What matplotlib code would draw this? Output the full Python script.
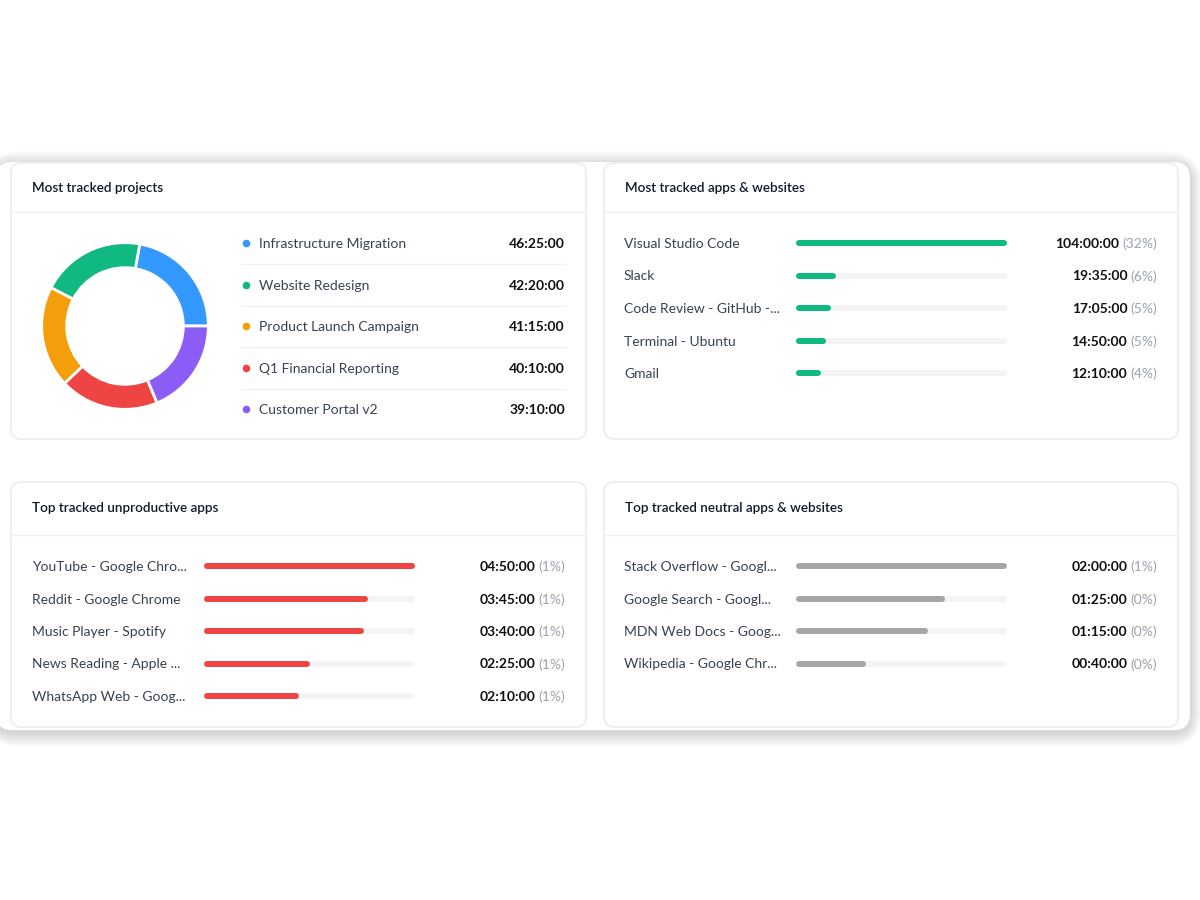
import matplotlib
matplotlib.use("Agg")
import matplotlib.pyplot as plt
from matplotlib.patches import FancyBboxPatch

plt.rcParams["font.family"] = ["Lato", "DejaVu Sans"]

W, H = 1200, 900

# data
project_names = [
    "Infrastructure Migration",
    "Website Redesign",
    "Product Launch Campaign",
    "Q1 Financial Reporting",
    "Customer Portal v2",
]
project_times = ["46:25:00", "42:20:00", "41:15:00", "40:10:00", "39:10:00"]
project_colors = ["#3399ff", "#10b981", "#f59e0b", "#ef4444", "#8b5cf6"]

app_names = [
    "Visual Studio Code",
    "Slack",
    "Code Review - GitHub -...",
    "Terminal - Ubuntu",
    "Gmail",
]
app_times = ["104:00:00", "19:35:00", "17:05:00", "14:50:00", "12:10:00"]
app_shares = ["32%", "6%", "5%", "5%", "4%"]

unprod_names = [
    "YouTube - Google Chro...",
    "Reddit - Google Chrome",
    "Music Player - Spotify",
    "News Reading - Apple ...",
    "WhatsApp Web - Goog...",
]
unprod_times = ["04:50:00", "03:45:00", "03:40:00", "02:25:00", "02:10:00"]
unprod_shares = ["1%", "1%", "1%", "1%", "1%"]

neutral_names = [
    "Stack Overflow - Googl...",
    "Google Search - Googl...",
    "MDN Web Docs - Goog...",
    "Wikipedia - Google Chr...",
]
neutral_times = ["02:00:00", "01:25:00", "01:15:00", "00:40:00"]
neutral_shares = ["1%", "0%", "0%", "0%"]


def to_hours(s):
    h, m, sec = (int(p) for p in s.split(":"))
    return h + m / 60 + sec / 3600


TITLE_C = "#111827"
LABEL_C = "#374151"
MUTED_C = "#9ca3af"
TRACK_C = "#f3f4f6"
LINE_C = "#f0f1f3"
FS = 10

fig = plt.figure(figsize=(12, 9), dpi=100)
bg = fig.add_axes([0, 0, 1, 1])
bg.set_xlim(0, W)
bg.set_ylim(H, 0)
bg.axis("off")


def px_axes(x0, y0, x1, y1):
    return fig.add_axes([x0 / W, 1 - y1 / H, (x1 - x0) / W, (y1 - y0) / H])


# soft shadow behind the whole panel
cx0, cy0, cx1, cy1 = -4, 162, 1190, 730
for i in range(20):
    g = 20 - i
    bg.add_patch(FancyBboxPatch(
        (cx0 - g * 0.6, cy0 - g * 0.7 + 3), (cx1 - cx0) + g * 1.2, (cy1 - cy0) + g * 1.4,
        boxstyle="round,pad=0,rounding_size=%d" % (16 + g),
        facecolor="black", edgecolor="none", alpha=0.007, zorder=1))
bg.add_patch(FancyBboxPatch(
    (cx0, cy0), cx1 - cx0, cy1 - cy0, boxstyle="round,pad=0,rounding_size=16",
    facecolor="white", edgecolor="none", zorder=2))


def card(x0, y0, x1, y1, title, sep_y):
    bg.add_patch(FancyBboxPatch(
        (x0, y0), x1 - x0, y1 - y0, boxstyle="round,pad=0,rounding_size=10",
        facecolor="white", edgecolor="#e8e9ec", linewidth=1.0, zorder=3))
    bg.plot([x0 + 1, x1 - 1], [sep_y, sep_y], color=LINE_C, lw=1, zorder=4)
    bg.text(x0 + 21, (y0 + sep_y) / 2, title, fontsize=FS - 0.3, fontweight="semibold",
            color=TITLE_C, va="center", ha="left", zorder=5)


card(11, 163, 586, 439, "Most tracked projects", 212)
card(604, 163, 1178, 439, "Most tracked apps & websites", 212)
card(11, 482, 586, 727, "Top tracked unproductive apps", 535)
card(604, 482, 1178, 727, "Top tracked neutral apps & websites", 535)

# donut
project_hours = [to_hours(t) for t in project_times]
dax = px_axes(40, 241, 210, 411)
dax.pie(project_hours, colors=project_colors, startangle=0, counterclock=True,
        wedgeprops=dict(width=0.3, edgecolor="white", linewidth=2))
dax.set_xlim(-1.02, 1.02)
dax.set_ylim(-1.02, 1.02)
dax.set_aspect("equal")
dax.axis("off")

row_y = [243, 285, 326, 368, 409]
for i, (name, t, c) in enumerate(zip(project_names, project_times, project_colors)):
    y = row_y[i] + 1
    bg.scatter([246], [y - 1], s=30, color=c, zorder=6, linewidths=0)
    bg.text(259, y, name, fontsize=FS, color=LABEL_C, va="center", ha="left", zorder=6)
    bg.text(565, y, t, fontsize=FS, fontweight="bold", color="#111111",
            va="center", ha="right", zorder=6)
    if i < len(project_names) - 1:
        sy = (row_y[i] + row_y[i + 1]) / 2
        bg.plot([241, 566], [sy, sy], color=LINE_C, lw=1, zorder=5)

renderer = fig.canvas.get_renderer()


def bar_list(names, times, shares, color, lx, bx0, bx1, vx, y0, step):
    hours = [to_hours(t) for t in times]
    n = len(names)
    top = y0 - step / 2
    ax = px_axes(bx0, top, bx1, top + n * step)
    mx = max(hours)
    ax.set_xlim(0, mx)
    ax.set_ylim(n - 0.5, -0.5)
    ax.axis("off")
    cap = mx * 3.0 / (bx1 - bx0)  # half of the bar thickness, in data units
    lw = 6 * 72 / 100
    rows = list(range(n))
    ax.hlines(rows, cap, mx - cap, colors=TRACK_C, linewidth=lw, capstyle="round")
    ax.hlines(rows, cap, [h - cap for h in hours], colors=color, linewidth=lw,
              capstyle="round")
    for i, (name, t, s) in enumerate(zip(names, times, shares)):
        y = y0 + i * step + 1
        bg.text(lx, y, name, fontsize=FS, color=LABEL_C, va="center", ha="left", zorder=6)
        pt = bg.text(vx, y, "(%s)" % s, fontsize=FS, color=MUTED_C,
                     va="center", ha="right", zorder=6)
        w = pt.get_window_extent(renderer=renderer).width
        bg.text(vx - w - 3, y, t, fontsize=FS, fontweight="bold", color="#111111",
                va="center", ha="right", zorder=6)


bar_list(app_names, app_times, app_shares, "#10b981", 624, 796, 1007, 1157, 243, 32.5)
bar_list(unprod_names, unprod_times, unprod_shares, "#ef4444", 32, 204, 415, 565, 566, 32.5)
bar_list(neutral_names, neutral_times, neutral_shares, "#a6a6a6", 624, 796, 1007, 1157, 566, 32.5)

fig.savefig("out.png", dpi=100, facecolor="white")
